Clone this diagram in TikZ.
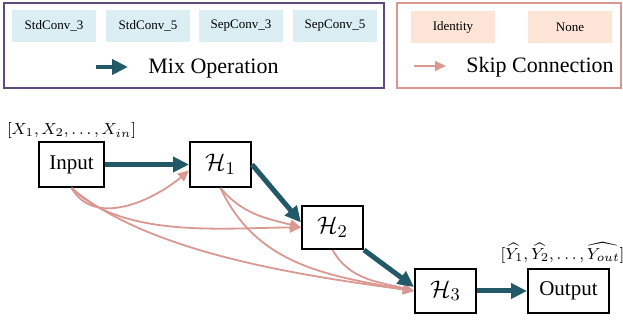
\documentclass[tikz,border=0pt]{standalone}
\usepackage{fontspec}
\setmainfont{Liberation Serif}
\usetikzlibrary{positioning,arrows.meta}

\definecolor{mixcol}{HTML}{215968}
\definecolor{skipcol}{HTML}{DA9892}
\definecolor{legmix}{HTML}{604A7B}
\definecolor{opblue}{HTML}{DAEEF3}
\definecolor{oppeach}{HTML}{FCE4D6}

\begin{document}
\begin{tikzpicture}[x=0.5pt,y=0.5pt,
    cell/.style={draw,line width=1pt,fill=white,minimum width=32.5pt,minimum height=22.5pt,inner sep=0pt,font=\fontsize{10.5}{12}\selectfont},
    hcell/.style={cell,minimum width=30.5pt,font=\fontsize{12.5}{14}\selectfont},
    opcell/.style={fill=opblue,minimum width=42pt,minimum height=16pt,inner sep=0pt,font=\fontsize{6.5}{8}\selectfont},
    mixarrow/.style={-{Triangle[length=8pt,width=7.5pt]},line width=2.5pt,mixcol},
    skiparrow/.style={-{Triangle[length=5.5pt,width=5pt]},line width=0.9pt,skipcol},
    legtext/.style={anchor=base west,inner sep=0pt,font=\fontsize{11}{13}\selectfont},
    seqlbl/.style={inner sep=0pt,font=\fontsize{8}{9}\selectfont}]
    \useasboundingbox (0,0) rectangle (623,320);

    % Legend: mix operations
    \draw[legmix,line width=1pt] (4,232) rectangle (384,317);
    \node[opcell] (sc3) at (54,294) {StdConv\_3};
    \node[opcell] (sc5) at (148,294) {StdConv\_5};
    \node[opcell] (pc3) at (241,294) {SepConv\_3};
    \node[opcell] (pc5) at (335,294) {SepConv\_5};
    \coordinate (mixa) at (96,253);
    \coordinate (mixb) at (128,253);
    \draw[mixarrow,line width=2pt] (mixa) -- (mixb);
    \node[legtext] (mixtxt) at (148,246) {Mix Operation};

    % Legend: skip connections
    \draw[skipcol,line width=1pt] (397,232) rectangle (621,317);
    \node[opcell,fill=oppeach] (idt) at (453,293) {Identity};
    \node[opcell,fill=oppeach] (non) at (570,293) {None};
    \coordinate (skipa) at (414,254);
    \coordinate (skipb) at (446,254);
    \draw[skiparrow] (skipa) -- (skipb);
    \node[legtext] (skiptxt) at (466,247) {Skip Connection};

    %% Cells
    \node[cell] (inp) at (71.5,155.5) {Input};
    \node[hcell] (h1) at (220.5,155.5) {$\mathcal{H}_1$};
    \node[hcell,minimum height=21.5pt] (h2) at (332.5,92.5) {$\mathcal{H}_2$};
    \node[hcell,minimum height=22pt] (h3) at (445.5,29) {$\mathcal{H}_3$};
    \node[cell,minimum width=40.5pt,minimum height=22pt] (outp) at (568.5,29) {Output};

    \node[seqlbl,above=1pt of inp] (inlbl) {$[X_1, X_2, \ldots, X_{in}]$};
    \node[seqlbl,above=2pt of outp,xshift=-3pt] (outlbl) {$[\widehat{Y_1}, \widehat{Y_2}, \ldots, \widehat{Y_{out}}]$};

    %% Skip connections
    \draw[skiparrow] (inp.south) to[out=-60,in=-140] ([yshift=-3pt]h1.west);
    \draw[skiparrow] (inp.south) to[out=-45,in=180,looseness=0.8] (h2.west);
    \draw[skiparrow] (inp.south) to[out=-40,in=172,looseness=0.75] (h3.west);
    \draw[skiparrow] (h1.south) to[out=-50,in=165] (h2.west);
    \draw[skiparrow] (h1.south) to[out=-65,in=170] (h3.west);
    \draw[skiparrow] (h2.south) to[out=-60,in=165] (h3.west);

    %% Mix operations
    \draw[mixarrow] (inp.east) -- (h1.west);
    \draw[mixarrow] (h1.east) -- ([yshift=2.5pt]h2.west);
    \draw[mixarrow] (h2.south east) -- ([yshift=2pt]h3.west);
    \draw[mixarrow] (h3.east) -- (outp.west);
\end{tikzpicture}
\end{document}
